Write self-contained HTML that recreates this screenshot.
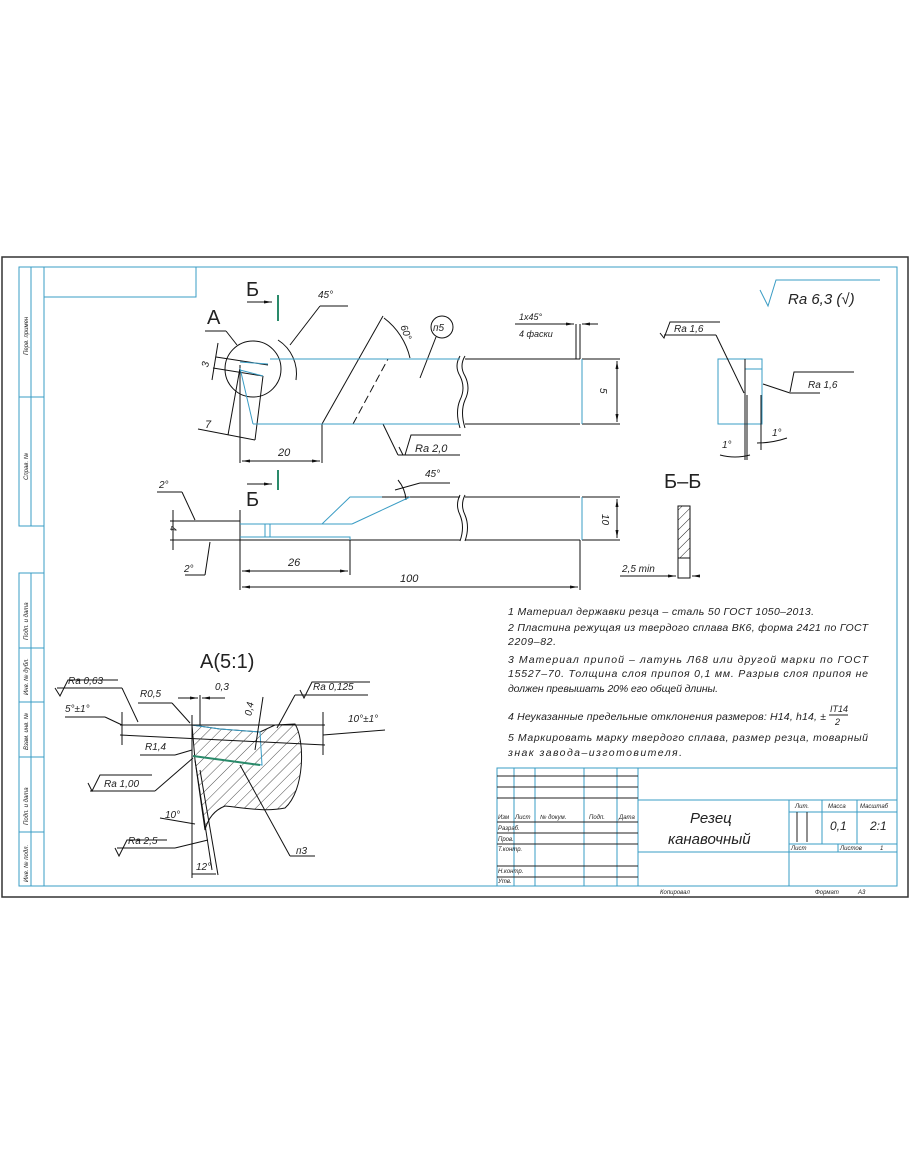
<!DOCTYPE html>
<html><head><meta charset="utf-8"><style>
html,body{margin:0;padding:0;background:#fff;}
svg{display:block;}
text{font-family:"Liberation Sans","DejaVu Sans",sans-serif;font-style:italic;fill:#222;}
</style></head><body>
<svg width="910" height="1155" viewBox="0 0 910 1155" xmlns="http://www.w3.org/2000/svg">
<defs>
<marker id="a" markerWidth="8" markerHeight="6" refX="8" refY="3" orient="auto"><path d="M0,1.5 L8,3 L0,4.5z" fill="#111"/></marker>
<pattern id="h" width="8" height="8" patternUnits="userSpaceOnUse" patternTransform="rotate(45)"><line x1="0" y1="0" x2="0" y2="8" stroke="#222" stroke-width="0.8"/></pattern>
<pattern id="h2" width="7" height="7" patternUnits="userSpaceOnUse" patternTransform="rotate(45)"><line x1="0" y1="0" x2="0" y2="7" stroke="#222" stroke-width="1"/></pattern>
</defs>
<rect width="910" height="1155" fill="#fff"/>
<rect x="2" y="257" width="906" height="640" fill="none" stroke="#333" stroke-width="1.5"/>
<g fill="none" stroke="#3a9cc4" stroke-width="1">
<rect x="44" y="267" width="853" height="619"/>
<rect x="44" y="267" width="152" height="30"/>
<rect x="19" y="267" width="25" height="259"/><line x1="31" y1="267" x2="31" y2="526"/><line x1="19" y1="397" x2="44" y2="397"/>
<rect x="19" y="573" width="25" height="313"/><line x1="31" y1="573" x2="31" y2="886"/>
<line x1="19" y1="648" x2="44" y2="648"/><line x1="19" y1="702" x2="44" y2="702"/><line x1="19" y1="757" x2="44" y2="757"/><line x1="19" y1="832" x2="44" y2="832"/>
</g>
<g font-size="6" transform="rotate(-90)">
<text x="-355" y="28">Перв. примен</text><text x="-480" y="28">Справ. №</text>
<text x="-640" y="28">Подп. и дата</text><text x="-695" y="28">Инв. № дубл.</text>
<text x="-750" y="28">Взам. инв. №</text><text x="-825" y="28">Подп. и дата</text><text x="-882" y="28">Инв. № подл.</text>
</g>

<g fill="none" stroke="#111" stroke-width="1">
<line x1="270" y1="359" x2="460" y2="359"/>
<line x1="465" y1="359" x2="580" y2="359"/>
<line x1="465" y1="424" x2="580" y2="424"/>
<path d="M460,356 q-6,10 0,20 q6,12 0,24 q-5,12 0,28"/>
<path d="M465,356 q-6,10 0,20 q6,12 0,24 q-5,12 0,28"/>
<line x1="322" y1="424" x2="383" y2="316"/>
<line x1="353" y1="424" x2="388" y2="359" stroke-dasharray="8,4"/>
<circle cx="253" cy="369" r="28"/>
<line x1="322" y1="424" x2="322" y2="463"/>
<line x1="240" y1="365" x2="240" y2="463"/>
<line x1="242" y1="461" x2="320" y2="461" marker-end="url(#a)"/><line x1="300" y1="461" x2="242" y2="461" marker-end="url(#a)"/>
<line x1="216" y1="357" x2="268" y2="365"/><line x1="213" y1="368" x2="263" y2="376"/>
<line x1="218" y1="343" x2="212" y2="380"/>
<line x1="263" y1="376" x2="255" y2="440"/><line x1="240" y1="368" x2="228" y2="435"/>
<line x1="198" y1="429" x2="255" y2="440"/>
<path d="M278,340 a40,40 0 0 1 18,40"/>
<line x1="290" y1="345" x2="320" y2="306"/><line x1="320" y1="306" x2="348" y2="306"/>
<path d="M384,318 a70,70 0 0 1 26,40"/>
<line x1="205" y1="331" x2="226" y2="331"/><line x1="226" y1="331" x2="237" y2="345"/>
<line x1="383" y1="424" x2="398" y2="455"/><line x1="398" y1="455" x2="460" y2="455"/>
<path d="M403,455 l-4,-8 M405,455 l6,-20 l50,0"/>
<circle cx="442" cy="327" r="11"/><line x1="436" y1="337" x2="420" y2="378"/>
<line x1="580" y1="324" x2="580" y2="359"/><line x1="576" y1="324" x2="576" y2="359"/>
<line x1="515" y1="324" x2="574" y2="324" marker-end="url(#a)"/><line x1="598" y1="324" x2="582" y2="324" marker-end="url(#a)"/>
<line x1="582" y1="359" x2="620" y2="359"/><line x1="582" y1="424" x2="620" y2="424"/>
<line x1="617" y1="391" x2="617" y2="361" marker-end="url(#a)"/><line x1="617" y1="391" x2="617" y2="422" marker-end="url(#a)"/>
<line x1="247" y1="302" x2="272" y2="302" marker-end="url(#a)"/>
<line x1="247" y1="484" x2="272" y2="484" marker-end="url(#a)"/>
</g>
<g stroke="#3a9cc4" fill="none" stroke-width="1">
<line x1="253" y1="424" x2="460" y2="424"/>
<line x1="270" y1="359" x2="460" y2="359"/>
<line x1="240" y1="362" x2="268" y2="364"/><line x1="240" y1="370" x2="263" y2="376"/>
<line x1="240" y1="368" x2="253" y2="424"/>
<line x1="582" y1="359" x2="582" y2="424"/>
</g>
<g stroke="#2a8a6a" stroke-width="2"><line x1="278" y1="295" x2="278" y2="321"/><line x1="278" y1="470" x2="278" y2="490"/></g>
<g font-size="11"><text x="278" y="456">20</text><text x="318" y="298" font-size="10">45°</text><text x="402" y="336" font-size="10" transform="rotate(70 408 330)">60°</text>
<text x="433" y="331" font-size="10">п5</text><text x="415" y="452">Ra 2,0</text>
<text x="200" y="366" font-size="10" transform="rotate(-80 205 362)">3</text><text x="205" y="428">7</text>
<text x="519" y="320" font-size="9">1х45°</text><text x="519" y="337" font-size="9">4 фаски</text>
<text x="600" y="396" font-size="10" transform="rotate(90 604 392)">5</text></g>
<text x="207" y="324" font-size="20" style="font-style:normal">А</text>
<text x="246" y="296" font-size="20" style="font-style:normal">Б</text>
<text x="246" y="506" font-size="20" style="font-style:normal">Б</text>

<g fill="none" stroke="#111" stroke-width="1">
<line x1="350" y1="497" x2="460" y2="497"/><line x1="465" y1="497" x2="580" y2="497"/>
<line x1="240" y1="540" x2="460" y2="540"/><line x1="465" y1="540" x2="580" y2="540"/>
<path d="M460,495 q-5,10 0,20 q5,12 0,26"/><path d="M465,495 q-5,10 0,20 q5,12 0,26"/>
<line x1="170" y1="521" x2="240" y2="521"/><line x1="170" y1="540" x2="240" y2="540"/>
<line x1="240" y1="510" x2="240" y2="590"/><line x1="350" y1="540" x2="350" y2="575"/><line x1="580" y1="540" x2="580" y2="590"/>
<line x1="295" y1="571" x2="242" y2="571" marker-end="url(#a)"/><line x1="295" y1="571" x2="348" y2="571" marker-end="url(#a)"/>
<line x1="400" y1="587" x2="242" y2="587" marker-end="url(#a)"/><line x1="400" y1="587" x2="578" y2="587" marker-end="url(#a)"/>
<line x1="173" y1="510" x2="173" y2="550"/>
<line x1="157" y1="492" x2="182" y2="492"/><line x1="182" y1="492" x2="195" y2="520"/>
<line x1="185" y1="575" x2="205" y2="575"/><line x1="205" y1="575" x2="210" y2="542"/>
<path d="M398,480 a35,35 0 0 1 8,20"/><line x1="395" y1="490" x2="420" y2="483"/><line x1="420" y1="483" x2="450" y2="483"/>
<line x1="582" y1="497" x2="620" y2="497"/><line x1="582" y1="540" x2="620" y2="540"/>
<line x1="617" y1="518" x2="617" y2="499" marker-end="url(#a)"/><line x1="617" y1="518" x2="617" y2="538" marker-end="url(#a)"/>
</g>
<g stroke="#3a9cc4" fill="none" stroke-width="1">
<path d="M240,524 L322,524 L350,497 L382,497"/>
<path d="M240,537 L350,537 L350,540"/>
<line x1="265" y1="524" x2="265" y2="537"/><line x1="270" y1="524" x2="270" y2="537"/>
<line x1="322" y1="524" x2="352" y2="524"/><line x1="352" y1="524" x2="410" y2="497"/>
<line x1="582" y1="497" x2="582" y2="540"/>
</g>
<g font-size="11"><text x="288" y="566">26</text><text x="400" y="582">100</text><text x="425" y="477" font-size="10">45°</text>
<text x="159" y="488" font-size="10">2°</text><text x="184" y="572" font-size="10">2°</text>
<text x="164" y="528" font-size="9" transform="rotate(90 168 530)">4</text>
<text x="600" y="520" font-size="10" transform="rotate(90 604 518)">10</text></g>

<g fill="none" stroke="#3a9cc4"><rect x="718" y="359" width="44" height="65"/><line x1="745" y1="369" x2="762" y2="369"/></g>
<g fill="none" stroke="#111">
<line x1="745" y1="359" x2="745" y2="460"/><line x1="747" y1="395" x2="747" y2="460"/><line x1="761" y1="395" x2="761" y2="450"/>
<path d="M660,333 l4,5 l6,-16 l50,0"/><line x1="664" y1="335" x2="716" y2="335"/><line x1="716" y1="335" x2="744" y2="393"/>
<path d="M790,392 l4,-20 l60,0"/><line x1="790" y1="393" x2="820" y2="393"/><line x1="790" y1="393" x2="763" y2="384"/>
<path d="M720,455 q15,4 30,0"/><path d="M757,443 q15,0 30,-5"/>
</g>
<g font-size="10"><text x="674" y="332">Ra 1,6</text><text x="808" y="388">Ra 1,6</text><text x="722" y="448">1°</text><text x="772" y="436">1°</text></g>
<path d="M760,290 l8,16 l8,-26 l104,0" fill="none" stroke="#3a9cc4"/>
<text x="788" y="304" font-size="15">Ra 6,3 (√)</text>

<text x="664" y="488" font-size="20" style="font-style:normal">Б–Б</text>
<rect x="678" y="506" width="12" height="54" fill="url(#h2)" stroke="#111"/>
<rect x="678" y="558" width="12" height="20" fill="#fff" stroke="#111"/>
<line x1="620" y1="576" x2="676" y2="576" stroke="#111" marker-end="url(#a)"/><line x1="700" y1="576" x2="692" y2="576" stroke="#111" marker-end="url(#a)"/>
<text x="622" y="572" font-size="10">2,5 min</text>

<g font-size="10.5">
<text x="508" y="615" textLength="306">1 Материал державки резца – сталь 50 ГОСТ 1050–2013.</text>
<text x="508" y="631" textLength="360">2 Пластина режущая из твердого сплава ВК6, форма 2421 по ГОСТ</text>
<text x="508" y="645" textLength="48">2209–82.</text>
<text x="508" y="663" textLength="360">3 Материал припой – латунь Л68 или другой марки по ГОСТ</text>
<text x="508" y="677" textLength="360">15527–70. Толщина слоя припоя 0,1 мм. Разрыв слоя припоя не</text>
<text x="508" y="692" textLength="210">должен превышать 20% его общей длины.</text>
<text x="508" y="720" textLength="318">4 Неуказанные предельные отклонения размеров: Н14, h14, ±</text>
<text x="830" y="712" font-size="9">IT14</text><line x1="829" y1="715" x2="848" y2="715" stroke="#222"/><text x="835" y="725" font-size="9">2</text>
<text x="508" y="741" textLength="360">5 Маркировать марку твердого сплава, размер резца, товарный</text>
<text x="508" y="756" textLength="174">знак завода–изготовителя.</text>
</g>

<text x="200" y="668" font-size="20" style="font-style:normal">А(5:1)</text>
<path d="M192,725 L220,729 L260,732 L275,725 L295,724 C305,740 305,790 285,808 C265,812 245,808 225,806 C215,810 208,818 205,830 L195,760 Z" fill="url(#h)" stroke="#111"/>
<path d="M192,725 L220,729 L260,732 L262,765 L193,756" fill="none" stroke="#3a9cc4"/>
<line x1="193" y1="756" x2="260" y2="765" stroke="#2a8a6a" stroke-width="2"/>
<g fill="none" stroke="#111">
<line x1="192" y1="715" x2="192" y2="878"/><line x1="200" y1="695" x2="200" y2="725"/>
<line x1="120" y1="725" x2="325" y2="725"/><line x1="120" y1="735" x2="325" y2="745"/>
<line x1="178" y1="698" x2="198" y2="698" marker-end="url(#a)"/><line x1="225" y1="698" x2="202" y2="698" marker-end="url(#a)"/>
<path d="M55,688 l5,8 l8,-16 l50,0"/><line x1="57" y1="688" x2="122" y2="688"/><line x1="122" y1="688" x2="138" y2="722"/>
<line x1="65" y1="717" x2="105" y2="717"/><line x1="105" y1="717" x2="122" y2="725"/>
<line x1="122" y1="712" x2="122" y2="745"/>
<line x1="138" y1="703" x2="172" y2="703"/><line x1="172" y1="703" x2="190" y2="723"/>
<line x1="140" y1="755" x2="175" y2="755"/><line x1="175" y1="755" x2="192" y2="750"/>
<path d="M88,783 l4,8 l8,-16 l52,0"/><line x1="90" y1="791" x2="155" y2="791"/><line x1="155" y1="791" x2="193" y2="758"/>
<path d="M115,848 l4,8 l8,-16 l40,0"/><line x1="117" y1="848" x2="175" y2="848"/><line x1="175" y1="848" x2="208" y2="840"/>
<path d="M195,760 L212,870"/><path d="M200,770 L218,875"/>
<line x1="160" y1="818" x2="195" y2="824"/><line x1="192" y1="874" x2="216" y2="874"/>
<line x1="263" y1="697" x2="255" y2="750"/>
<path d="M300,690 l4,8 l8,-16 l58,0"/><line x1="295" y1="695" x2="368" y2="695"/><line x1="295" y1="695" x2="277" y2="728"/>
<line x1="323" y1="712" x2="323" y2="755"/><line x1="323" y1="735" x2="385" y2="730"/>
<line x1="240" y1="765" x2="290" y2="856"/><line x1="290" y1="856" x2="315" y2="856"/>
</g>
<g font-size="10"><text x="68" y="684">Ra 0,63</text><text x="65" y="712">5°±1°</text><text x="140" y="697">R0,5</text>
<text x="215" y="690">0,3</text><text x="145" y="750">R1,4</text><text x="104" y="787">Ra 1,00</text>
<text x="165" y="818">10°</text><text x="128" y="844">Ra 2,5</text><text x="196" y="870">12°</text>
<text x="313" y="690">Ra 0,125</text><text x="348" y="722">10°±1°</text><text x="296" y="854">п3</text>
<text x="246" y="714" transform="rotate(-80 250 712)">0,4</text></g>

<g fill="none" stroke="#3a9cc4">
<rect x="497" y="768" width="400" height="118"/>
<line x1="638" y1="768" x2="638" y2="886"/>
<line x1="638" y1="800" x2="897" y2="800"/>
<line x1="789" y1="800" x2="789" y2="886"/>
<line x1="638" y1="852" x2="897" y2="852"/>
<line x1="789" y1="812" x2="897" y2="812"/><line x1="789" y1="844" x2="897" y2="844"/>
<line x1="822" y1="800" x2="822" y2="844"/><line x1="857" y1="800" x2="857" y2="844"/>
<line x1="838" y1="844" x2="838" y2="852"/>
<line x1="514" y1="768" x2="514" y2="886"/><line x1="535" y1="768" x2="535" y2="886"/><line x1="584" y1="768" x2="584" y2="886"/><line x1="617" y1="768" x2="617" y2="886"/>
</g>
<g stroke="#222">
<line x1="497" y1="776" x2="638" y2="776"/><line x1="497" y1="787" x2="638" y2="787"/><line x1="497" y1="798" x2="638" y2="798"/>
<line x1="497" y1="822" x2="638" y2="822"/><line x1="497" y1="833" x2="638" y2="833"/><line x1="497" y1="844" x2="638" y2="844"/><line x1="497" y1="866" x2="638" y2="866"/><line x1="497" y1="877" x2="638" y2="877"/>
<line x1="797" y1="812" x2="797" y2="842"/><line x1="807" y1="812" x2="807" y2="842"/>
</g>
<g font-size="6"><text x="498" y="819">Изм</text><text x="515" y="819">Лист</text><text x="540" y="819">№ докум.</text><text x="589" y="819">Подп.</text><text x="619" y="819">Дата</text>
<text x="498" y="830">Разраб.</text><text x="498" y="841">Пров.</text><text x="498" y="851">Т.контр.</text><text x="498" y="873">Н.контр.</text><text x="498" y="883">Утв.</text>
<text x="795" y="808">Лит.</text><text x="828" y="808">Масса</text><text x="860" y="808">Масштаб</text>
<text x="791" y="850">Лист</text><text x="840" y="850">Листов</text><text x="880" y="850">1</text>
<text x="660" y="894">Копировал</text><text x="815" y="894">Формат</text><text x="858" y="894">А3</text></g>
<text x="830" y="830" font-size="12">0,1</text><text x="870" y="830" font-size="12">2:1</text>
<text x="690" y="823" font-size="15">Резец</text><text x="668" y="844" font-size="15">канавочный</text>
</svg>
</body></html>
